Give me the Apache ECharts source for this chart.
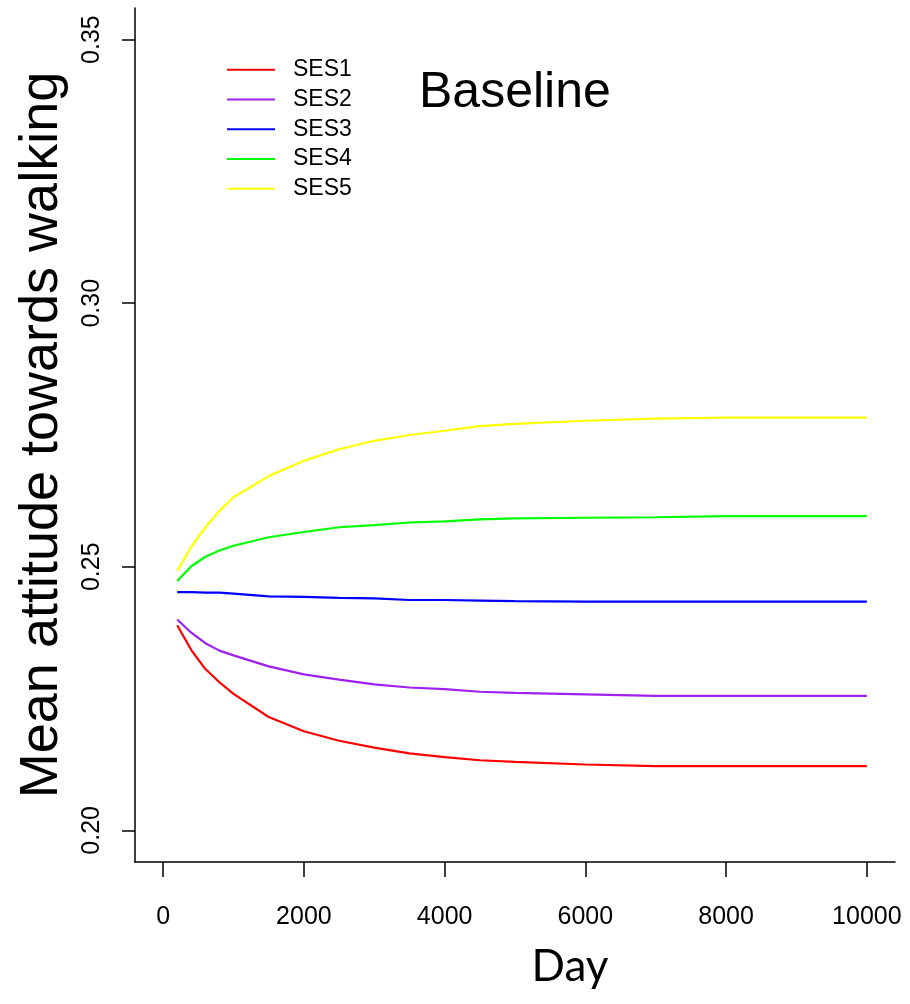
<!DOCTYPE html>
<html>
<head>
<meta charset="utf-8">
<script src="https://cdn.jsdelivr.net/npm/echarts@6/dist/echarts.min.js"></script>
<style>
  html, body { margin: 0; padding: 0; background: #fff; }
  #chart { width: 910px; height: 1004px; }
</style>
</head>
<body>
<div id="chart"></div>
<script>
var days = [200, 400, 600, 800, 1000, 1500, 2000, 2500, 3000, 3500, 4000, 4500, 5000, 6000, 7000, 8000, 9000, 10000];
var ses1 = [0.2389, 0.2342, 0.2306, 0.2281, 0.2259, 0.2215, 0.2188, 0.2170, 0.2157, 0.2146, 0.2139, 0.2133, 0.2130, 0.2125, 0.2122, 0.2122, 0.2122, 0.2122];
var ses2 = [0.2400, 0.2375, 0.2355, 0.2341, 0.2332, 0.2311, 0.2296, 0.2286, 0.2277, 0.2271, 0.2268, 0.2263, 0.2261, 0.2258, 0.2255, 0.2255, 0.2255, 0.2255];
var ses3 = [0.2452, 0.2452, 0.2451, 0.2451, 0.2449, 0.2444, 0.2443, 0.2441, 0.2440, 0.2437, 0.2437, 0.2436, 0.2435, 0.2434, 0.2434, 0.2434, 0.2434, 0.2434];
var ses4 = [0.2473, 0.2501, 0.2519, 0.2531, 0.2540, 0.2556, 0.2566, 0.2575, 0.2579, 0.2584, 0.2586, 0.2590, 0.2592, 0.2593, 0.2594, 0.2596, 0.2596, 0.2596];
var ses5 = [0.2492, 0.2538, 0.2575, 0.2606, 0.2632, 0.2672, 0.2701, 0.2723, 0.2739, 0.2750, 0.2758, 0.2767, 0.2771, 0.2777, 0.2781, 0.2783, 0.2783, 0.2783];
var seriesNames = ['SES1', 'SES2', 'SES3', 'SES4', 'SES5'];
var seriesColors = ['#FF0000', '#A020F0', '#0000FF', '#00FF00', '#FFFF00'];
var xTicks = [0, 2000, 4000, 6000, 8000, 10000];
var yTicks = [0.20, 0.25, 0.30, 0.35];

var allValues = [ses1, ses2, ses3, ses4, ses5];

function pairs(values) {
  return days.map(function(d, i) {
    return [d, values[i]];
  });
}

var chart = echarts.init(document.getElementById('chart'));
var font = 'Liberation Sans, Arial, sans-serif';

chart.setOption({
  animation: false,
  backgroundColor: '#ffffff',
  title: {
    text: 'Baseline',
    left: 414,
    top: 63,
    textStyle: { fontFamily: font, fontSize: 50, fontWeight: 'normal', color: '#000' }
  },
  legend: {
    orient: 'vertical',
    left: 222,
    top: 50,
    icon: 'rect',
    itemWidth: 48,
    itemHeight: 2,
    itemGap: 0,
    selectedMode: false,
    data: seriesNames,
    textStyle: {
      fontFamily: font,
      fontSize: 23,
      color: '#000',
      lineHeight: 29.7,
      padding: [0, 0, 0, 13]
    }
  },
  grid: { left: 135, right: 15, top: 8, bottom: 142 },
  xAxis: {
    type: 'value',
    min: -400,
    max: 10400,
    name: 'Day',
    nameLocation: 'middle',
    nameGap: 83,
    nameTextStyle: { fontFamily: 'Lato, sans-serif', fontSize: 44, color: '#000', padding: [0, 0, 0, 110] },
    splitLine: { show: false },
    axisLine: { onZero: false, lineStyle: { color: '#000', width: 1.5 } },
    axisTick: { customValues: xTicks, length: 15, lineStyle: { color: '#000', width: 1.5 } },
    axisLabel: {
      customValues: xTicks,
      margin: 43,
      fontFamily: font,
      fontSize: 25,
      color: '#000',
      formatter: function(v) { return String(v); }
    }
  },
  yAxis: {
    type: 'value',
    min: 0.194,
    max: 0.356,
    name: 'Mean attitude towards walking',
    nameLocation: 'middle',
    nameGap: 66,
    nameTextStyle: { fontFamily: font, fontSize: 54, color: '#000' },
    splitLine: { show: false },
    axisLine: { show: true, onZero: false, lineStyle: { color: '#000', width: 1.5 } },
    axisTick: { customValues: yTicks, length: 13, lineStyle: { color: '#000', width: 1.5 } },
    axisLabel: {
      customValues: yTicks,
      rotate: 90,
      margin: 30,
      fontFamily: font,
      fontSize: 25,
      color: '#000',
      formatter: function(v) { return v.toFixed(2); }
    }
  },
  series: seriesNames.map(function(name, i) {
    return {
      name: name,
      type: 'line',
      showSymbol: false,
      color: seriesColors[i],
      lineStyle: { width: 2.2, color: seriesColors[i] },
      data: pairs(allValues[i])
    };
  })
});
</script>
</body>
</html>
